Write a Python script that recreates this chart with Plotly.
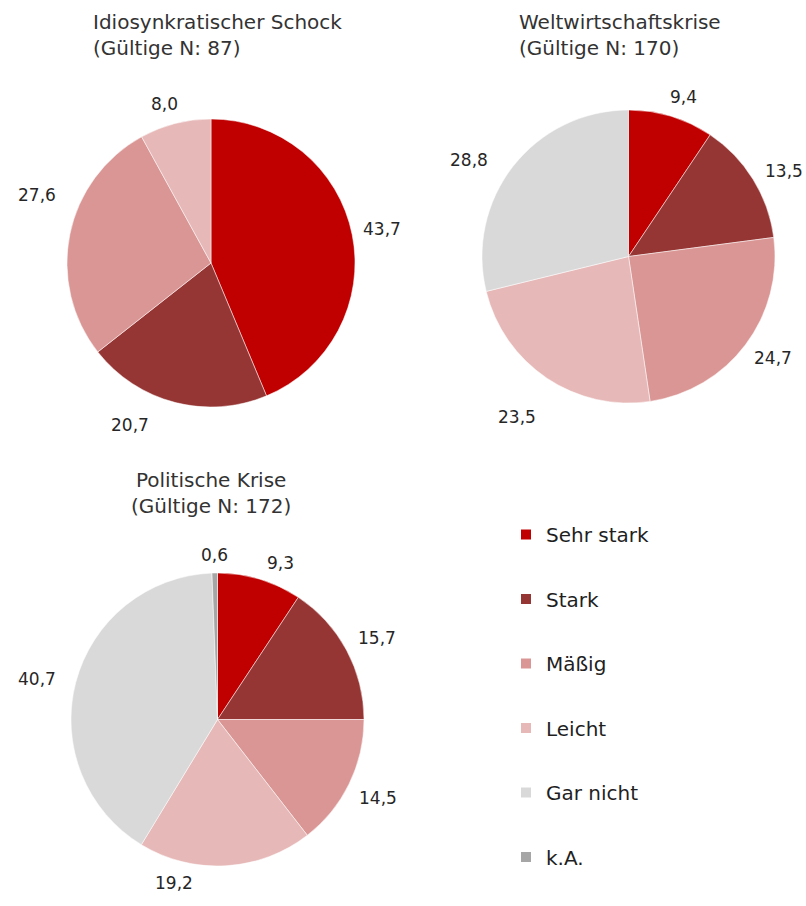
import math
import plotly.graph_objects as go

W, H = 806, 906

categories = ["Sehr stark", "Stark", "Mäßig", "Leicht", "Gar nicht", "k.A."]
colors = ["#C00000", "#963634", "#DA9694", "#E6B8B7", "#D9D9D9", "#A6A6A6"]

titles = [
    "Idiosynkratischer Schock<br>(Gültige N: 87)",
    "Weltwirtschaftskrise<br>(Gültige N: 170)",
    "Politische Krise<br>(Gültige N: 172)",
]

idio_values = [43.7, 20.7, 27.6, 8.0, 0.0, 0.0]
welt_values = [9.4, 13.5, 24.7, 23.5, 28.8, 0.0]
poli_values = [9.3, 15.7, 14.5, 19.2, 40.7, 0.6]

FONT = "DejaVu Sans, Verdana, sans-serif"
LABEL_SIZE = 17

# pixel boxes (left, top, right, bottom) for each pie
boxes = [
    (67, 119, 355, 407),
    (482, 110, 775, 403),
    (71, 573, 364, 866),
]

# label placement tweaks per slice: angular shift (deg) and extra distance (px)
label_shift = [
    [0, 12, 10, -2, 0, 0],
    [2, 3, -2, 1, -7, 0],
    [5, 1, 0, 18, -2, 0],
]
label_extra = [
    [0, 12, 12, 0, 0, 0],
    [0, 0, 0, 22, 9, 0],
    [0, 2, 2, 0, 8, 0],
]


def px_domain(box):
    l, t, r, b = box
    return dict(x=[l / W, r / W], y=[1 - b / H, 1 - t / H])


def fmt(v):
    return f"{v:.1f}".replace(".", ",")


def text_width(s):
    # rough DejaVu Sans advance widths for digits and comma
    return sum((0.318 if ch == "," else 0.636) * LABEL_SIZE for ch in s)


fig = go.Figure()

all_values = [idio_values, welt_values, poli_values]
for k, (vals, box) in enumerate(zip(all_values, boxes)):
    labs = [c for c, v in zip(categories, vals) if v > 0]
    vs = [v for v in vals if v > 0]
    cols = [col for col, v in zip(colors, vals) if v > 0]
    fig.add_trace(go.Pie(
        labels=labs,
        values=vs,
        text=[fmt(v) for v in vs],
        textinfo="none",
        marker=dict(colors=cols, line=dict(color="white", width=0.5)),
        sort=False,
        direction="clockwise",
        rotation=0,
        domain=px_domain(box),
        showlegend=False,
        hoverinfo="label+text",
    ))

    # value labels outside each slice, placed around the slice's mid-angle
    l, t, r, b = box
    cx, cy = (l + r) / 2, (t + b) / 2
    rad = min(r - l, b - t) / 2
    total = sum(vals)
    cum = 0.0
    for i, v in enumerate(vals):
        if v <= 0:
            continue
        mid = (cum + v / 2) / total * 360 + label_shift[k][i]
        cum += v
        th = math.radians(mid)
        s = fmt(v)
        half_ext = abs(math.sin(th)) * text_width(s) / 2 + abs(math.cos(th)) * 8
        d = rad + 10 + half_ext + label_extra[k][i]
        px = cx + d * math.sin(th)
        py = cy - d * math.cos(th)
        fig.add_annotation(
            text=s, x=px / W, y=1 - py / H, xref="paper", yref="paper",
            xanchor="center", yanchor="middle", showarrow=False,
            font=dict(size=LABEL_SIZE, color="#262626", family=FONT),
        )

# legend entries: square markers, each in its own group for even spacing
for cat, col in zip(categories, colors):
    fig.add_trace(go.Scatter(
        x=[None], y=[None], mode="markers",
        marker=dict(symbol="square", size=10, color=col),
        name=cat, legendgroup=cat, showlegend=True,
    ))

# titles above each pie: (x, y, anchor, align)
title_pos = [(91, 35, "left", "left"), (517, 35, "left", "left"),
             (211, 493, "center", "center")]
for txt, (tx, ty, xa, al) in zip(titles, title_pos):
    fig.add_annotation(
        text=txt, x=tx / W, y=1 - ty / H, xref="paper", yref="paper",
        xanchor=xa, yanchor="middle", showarrow=False, align=al,
        font=dict(size=20, color="#333333", family=FONT),
    )

fig.update_layout(
    width=W, height=H,
    margin=dict(l=0, r=0, t=0, b=0),
    paper_bgcolor="white",
    plot_bgcolor="white",
    xaxis=dict(visible=False),
    yaxis=dict(visible=False),
    legend=dict(
        x=506 / W, y=1 - 515 / H, xanchor="left", yanchor="top",
        font=dict(size=20, color="#1f1f1f", family=FONT),
        tracegroupgap=35.5,
        bgcolor="rgba(0,0,0,0)",
    ),
)

fig.write_html("out.html")
